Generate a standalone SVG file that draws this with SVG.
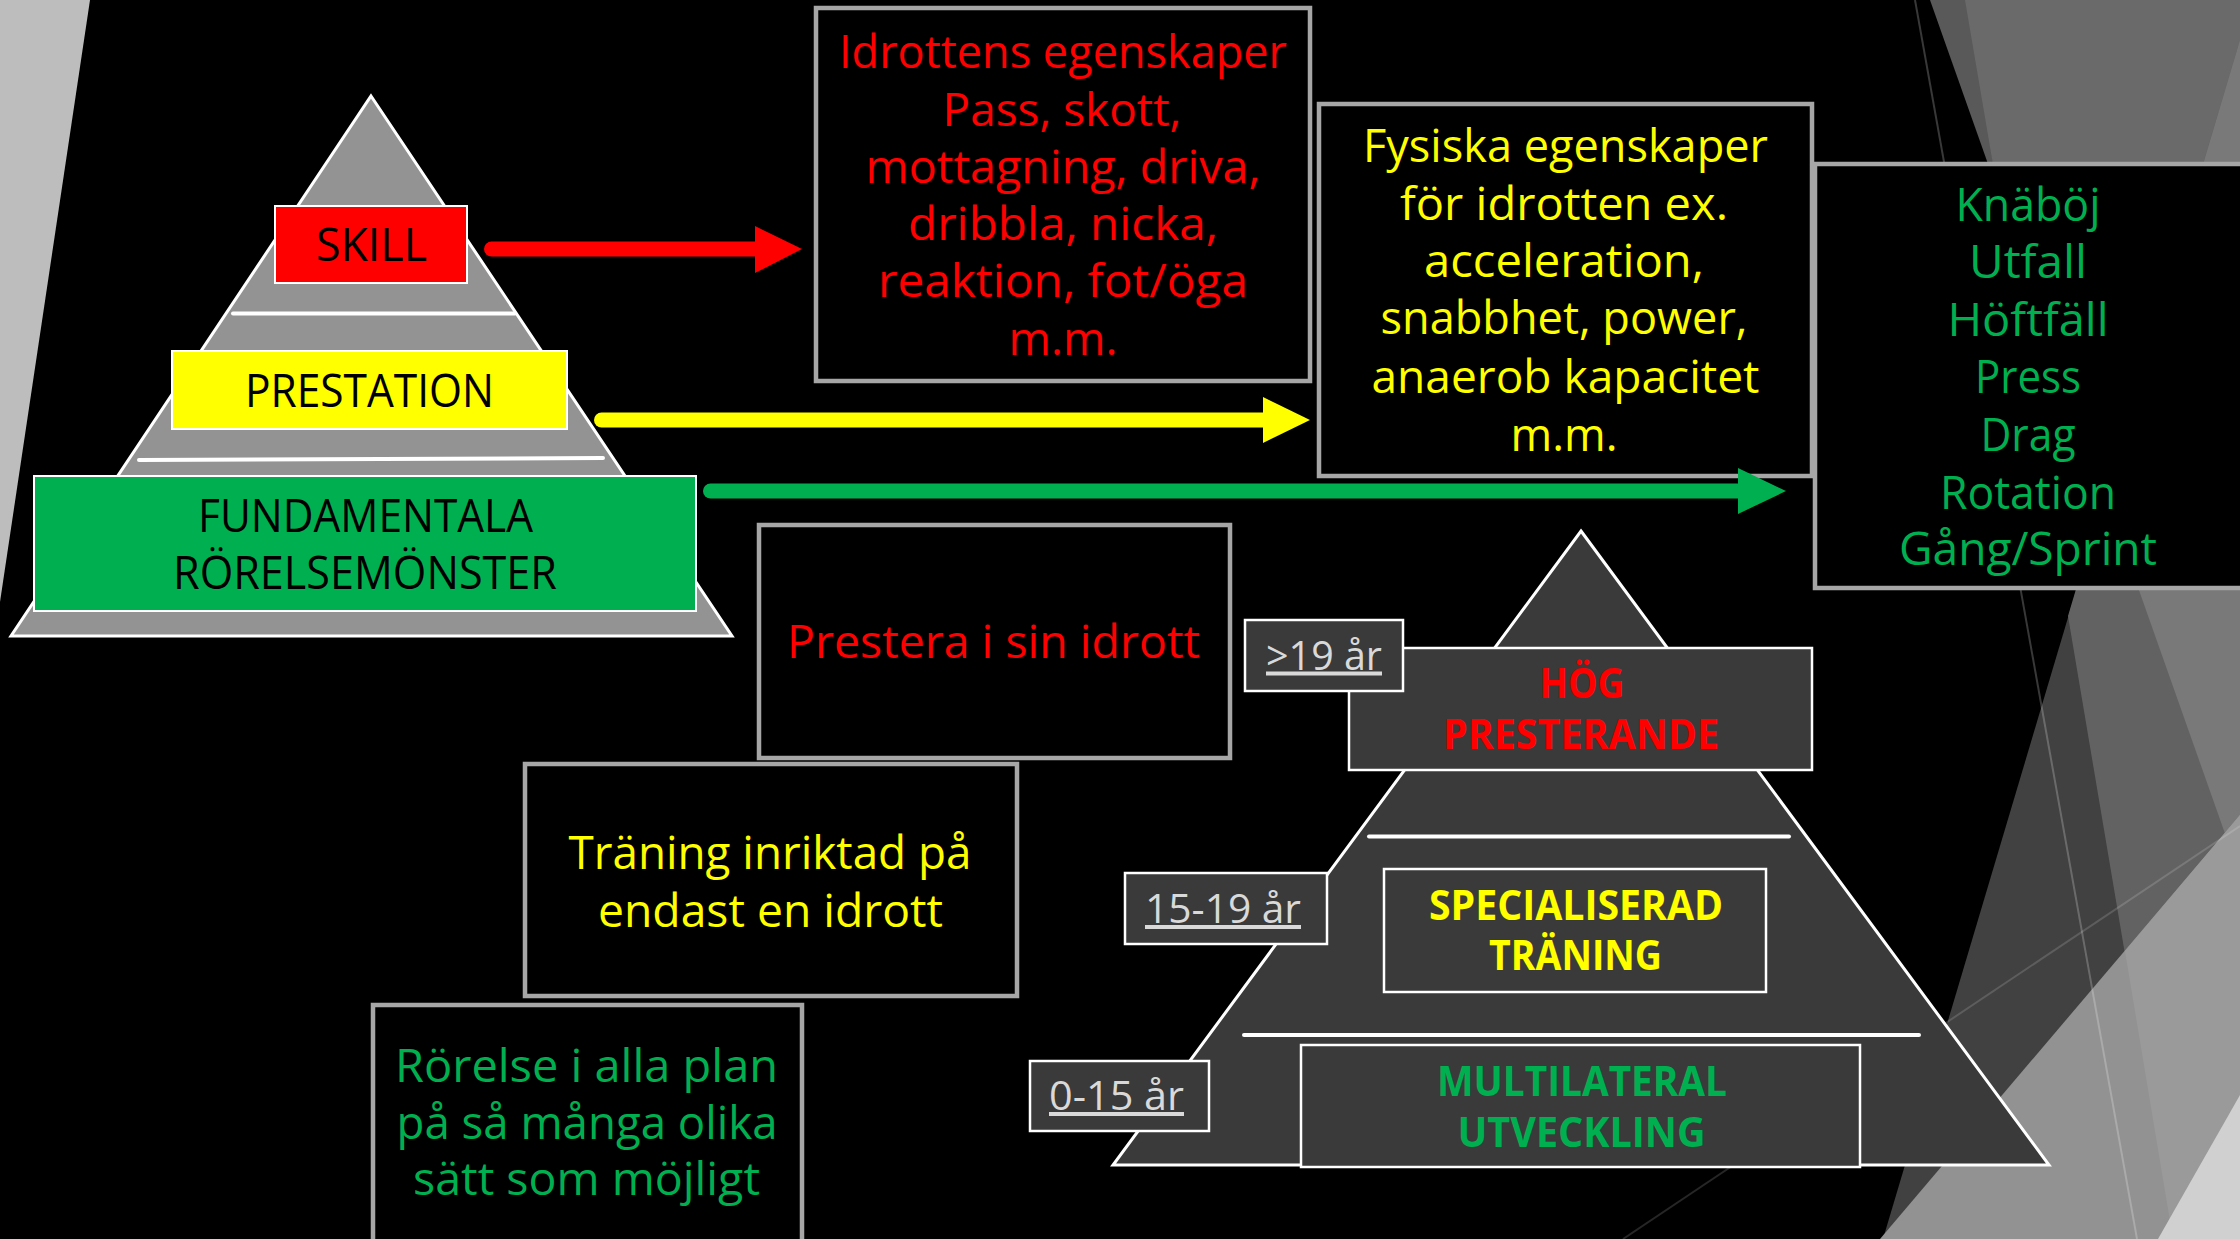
<svg xmlns="http://www.w3.org/2000/svg" width="2240" height="1239" viewBox="0 0 2240 1239">
<style>
text{font-family:"Open Sans","DejaVu Sans",sans-serif;text-anchor:middle;}
.t{font-size:45px;}
.tb{font-size:41px;font-weight:bold;}
.lbl{font-size:40px;fill:#d9d9d9;text-decoration:underline;}
.red{fill:#ff0000;}
.yel{fill:#ffff00;}
.grn{fill:#00b050;}
.blk{fill:#000000;}
.box{fill:#000000;stroke:#a6a6a6;stroke-width:4.5;}
.cbox{stroke:#ffffff;stroke-width:2;}
.pyr{stroke:#ffffff;stroke-width:3;stroke-linejoin:miter;}
.div{stroke:#ffffff;stroke-width:4;stroke-linecap:round;}
.dbox{fill:#3a3a3a;stroke:#ffffff;stroke-width:2.5;}
.shaft{stroke-width:15;stroke-linecap:round;fill:none;}
</style>
<rect x="0" y="0" width="2240" height="1239" fill="#000000"/>
<g id="background">
<polygon points="0,0 90,0 0,602" fill="#bdbdbd"/>
<polygon points="2240,40 1883,1239 2240,1239" fill="#414141"/>
<polygon points="1930,0 2240,0 2240,876" fill="#595959"/>
<polygon points="1965,0 2240,0 2240,876 1997,188" fill="#6a6a6a"/>
<polygon points="2240,40 2068,616 2173,1239 2240,1239" fill="#626262"/>
<polygon points="2240,40 2105,494 2240,876" fill="#797979"/>
<polygon points="1880,1239 2240,815 2240,1239" fill="#929292"/>
<polygon points="2125,951 2240,815 2240,1239 2173,1239" fill="#9a9a9a"/>
<polygon points="2158,1239 2240,1095 2240,1239" fill="#d0d0d0"/>
<line x1="1915" y1="0" x2="2137" y2="1239" stroke="#ffffff" stroke-opacity="0.22" stroke-width="2"/>
<line x1="1623" y1="1239" x2="2240" y2="826" stroke="#ffffff" stroke-opacity="0.15" stroke-width="2"/>
</g>
<g id="left-pyramid">
<polygon class="pyr" points="371,96 732,636 11,636" fill="#939393"/>
<line class="div" x1="233" y1="313.5" x2="515" y2="313.5"/>
<line class="div" x1="139" y1="460" x2="603" y2="458"/>
</g>
<g id="skill">
<rect class="cbox" x="275" y="206" width="192" height="77" fill="#ff0000"/>
<text class="t blk" x="371.5" y="261" textLength="111" lengthAdjust="spacingAndGlyphs">SKILL</text>
</g>
<g id="prestation">
<rect class="cbox" x="172" y="351" width="395" height="78" fill="#ffff00"/>
<text class="t blk" x="369.5" y="407" textLength="249" lengthAdjust="spacingAndGlyphs">PRESTATION</text>
</g>
<g id="fundamentala">
<rect class="cbox" x="34" y="476" width="662" height="135" fill="#00b050"/>
<text class="t blk" x="365.5" y="532" textLength="335" lengthAdjust="spacingAndGlyphs">FUNDAMENTALA</text>
<text class="t blk" x="365" y="589" textLength="384" lengthAdjust="spacingAndGlyphs">RÖRELSEMÖNSTER</text>
</g>
<g id="idrottens-egenskaper">
<rect class="box" x="816" y="8" width="494" height="373"/>
<text class="t red" x="1063" y="68" textLength="448" lengthAdjust="spacingAndGlyphs">Idrottens egenskaper</text>
<text class="t red" x="1062" y="126" textLength="239" lengthAdjust="spacingAndGlyphs">Pass, skott,</text>
<text class="t red" x="1063" y="183" textLength="395" lengthAdjust="spacingAndGlyphs">mottagning, driva,</text>
<text class="t red" x="1063" y="240" textLength="310" lengthAdjust="spacingAndGlyphs">dribbla, nicka,</text>
<text class="t red" x="1063" y="297" textLength="370" lengthAdjust="spacingAndGlyphs">reaktion, fot/öga</text>
<text class="t red" x="1063" y="355" textLength="109" lengthAdjust="spacingAndGlyphs">m.m.</text>
</g>
<g id="fysiska-egenskaper">
<rect class="box" x="1319" y="104" width="493" height="372"/>
<text class="t yel" x="1565.5" y="162" textLength="405" lengthAdjust="spacingAndGlyphs">Fysiska egenskaper</text>
<text class="t yel" x="1564" y="219.5" textLength="328" lengthAdjust="spacingAndGlyphs">för idrotten ex.</text>
<text class="t yel" x="1564" y="277" textLength="280" lengthAdjust="spacingAndGlyphs">acceleration,</text>
<text class="t yel" x="1564" y="334" textLength="367" lengthAdjust="spacingAndGlyphs">snabbhet, power,</text>
<text class="t yel" x="1565.5" y="393" textLength="388" lengthAdjust="spacingAndGlyphs">anaerob kapacitet</text>
<text class="t yel" x="1564" y="451" textLength="107" lengthAdjust="spacingAndGlyphs">m.m.</text>
</g>
<g id="ovningar">
<rect class="box" x="1815" y="164" width="500" height="424"/>
<text class="t grn" x="2028" y="221" textLength="145" lengthAdjust="spacingAndGlyphs">Knäböj</text>
<text class="t grn" x="2028" y="278" textLength="118" lengthAdjust="spacingAndGlyphs">Utfall</text>
<text class="t grn" x="2028" y="336" textLength="161" lengthAdjust="spacingAndGlyphs">Höftfäll</text>
<text class="t grn" x="2028" y="393" textLength="106" lengthAdjust="spacingAndGlyphs">Press</text>
<text class="t grn" x="2028" y="451" textLength="95" lengthAdjust="spacingAndGlyphs">Drag</text>
<text class="t grn" x="2028" y="509" textLength="176" lengthAdjust="spacingAndGlyphs">Rotation</text>
<text class="t grn" x="2028" y="565" textLength="258" lengthAdjust="spacingAndGlyphs">Gång/Sprint</text>
</g>
<g id="prestera">
<rect class="box" x="759" y="525" width="471" height="233"/>
<text class="t red" x="993.5" y="658" textLength="413" lengthAdjust="spacingAndGlyphs">Prestera i sin idrott</text>
</g>
<g id="traning-inriktad">
<rect class="box" x="525" y="764" width="492" height="232"/>
<text class="t yel" x="770" y="868.5" textLength="403" lengthAdjust="spacingAndGlyphs">Träning inriktad på</text>
<text class="t yel" x="770.5" y="926.5" textLength="345" lengthAdjust="spacingAndGlyphs">endast en idrott</text>
</g>
<g id="rorelse">
<rect class="box" x="373" y="1005" width="429" height="260"/>
<text class="t grn" x="586.5" y="1082" textLength="383" lengthAdjust="spacingAndGlyphs">Rörelse i alla plan</text>
<text class="t grn" x="587" y="1138.6" textLength="381" lengthAdjust="spacingAndGlyphs">på så många olika</text>
<text class="t grn" x="586.5" y="1195" textLength="347" lengthAdjust="spacingAndGlyphs">sätt som möjligt</text>
</g>
<g id="right-pyramid">
<polygon class="pyr" points="1581,531 2049,1165 1113,1165" fill="#3a3a3a"/>
<line class="div" x1="1369" y1="836.5" x2="1789" y2="836.5"/>
<line class="div" x1="1244" y1="1035" x2="1919" y2="1035"/>
</g>
<g id="hog-presterande">
<rect class="dbox" x="1349" y="648" width="463" height="122"/>
<text class="tb red" x="1582" y="698" textLength="85" lengthAdjust="spacingAndGlyphs">HÖG</text>
<text class="tb red" x="1581" y="749" textLength="276" lengthAdjust="spacingAndGlyphs">PRESTERANDE</text>
</g>
<g id="age-19">
<rect class="dbox" x="1245" y="620" width="158" height="71"/>
<text class="lbl" x="1324" y="669.5" textLength="116" lengthAdjust="spacingAndGlyphs">&gt;19 år</text>
</g>
<g id="specialiserad">
<rect class="dbox" x="1384" y="869" width="382" height="123"/>
<text class="tb yel" x="1576" y="919.5" textLength="294" lengthAdjust="spacingAndGlyphs">SPECIALISERAD</text>
<text class="tb yel" x="1575.5" y="970" textLength="173" lengthAdjust="spacingAndGlyphs">TRÄNING</text>
</g>
<g id="age-15-19">
<rect class="dbox" x="1125" y="873" width="202" height="71"/>
<text class="lbl" x="1223" y="923" textLength="156" lengthAdjust="spacingAndGlyphs">15-19 år</text>
</g>
<g id="multilateral">
<rect class="dbox" x="1301" y="1045" width="559" height="122"/>
<text class="tb grn" x="1582" y="1096" textLength="290" lengthAdjust="spacingAndGlyphs">MULTILATERAL</text>
<text class="tb grn" x="1581.5" y="1147" textLength="248" lengthAdjust="spacingAndGlyphs">UTVECKLING</text>
</g>
<g id="age-0-15">
<rect class="dbox" x="1030" y="1061" width="179" height="70"/>
<text class="lbl" x="1116.5" y="1110" textLength="135" lengthAdjust="spacingAndGlyphs">0-15 år</text>
</g>
<g id="connectors">
<line class="shaft" x1="491.5" y1="249" x2="760" y2="249" stroke="#ff0000"/>
<polygon points="755,226 802,249 755,273" fill="#ff0000"/>
<line class="shaft" x1="601.5" y1="420" x2="1268" y2="420" stroke="#ffff00"/>
<polygon points="1263,397 1310,420 1263,443" fill="#ffff00"/>
<line class="shaft" x1="710.5" y1="491" x2="1743" y2="491" stroke="#00b050"/>
<polygon points="1738,468 1786,491 1738,514" fill="#00b050"/>
</g>
</svg>
